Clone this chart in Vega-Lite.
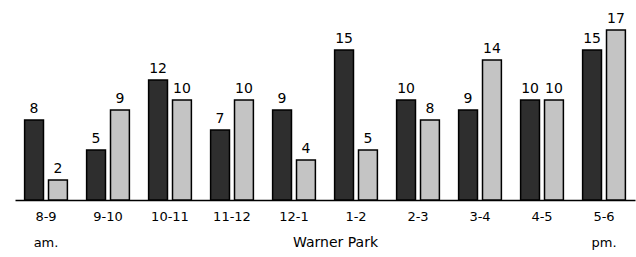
{
  "$schema": "https://vega.github.io/schema/vega-lite/v6.json",
  "width": 620,
  "height": 200,
  "autosize": {"type": "none"},
  "padding": {"left": 15, "top": 0, "right": 1, "bottom": 57},
  "background": "white",
  "config": {"view": {"stroke": null}, "font": "DejaVu Sans"},
  "data": {"values": [
    {"time": "8-9", "series": "A", "value": 8},
    {"time": "8-9", "series": "B", "value": 2},
    {"time": "9-10", "series": "A", "value": 5},
    {"time": "9-10", "series": "B", "value": 9},
    {"time": "10-11", "series": "A", "value": 12},
    {"time": "10-11", "series": "B", "value": 10},
    {"time": "11-12", "series": "A", "value": 7},
    {"time": "11-12", "series": "B", "value": 10},
    {"time": "12-1", "series": "A", "value": 9},
    {"time": "12-1", "series": "B", "value": 4},
    {"time": "1-2", "series": "A", "value": 15},
    {"time": "1-2", "series": "B", "value": 5},
    {"time": "2-3", "series": "A", "value": 10},
    {"time": "2-3", "series": "B", "value": 8},
    {"time": "3-4", "series": "A", "value": 9},
    {"time": "3-4", "series": "B", "value": 14},
    {"time": "4-5", "series": "A", "value": 10},
    {"time": "4-5", "series": "B", "value": 10},
    {"time": "5-6", "series": "A", "value": 15},
    {"time": "5-6", "series": "B", "value": 17}
  ]},
  "encoding": {
    "x": {
      "field": "time", "type": "nominal", "sort": null,
      "scale": {"paddingInner": 0.31, "paddingOuter": 0.155},
      "axis": {
        "title": "Warner Park", "titleFontSize": 14, "titleFontWeight": "normal",
        "titleColor": "black", "titleX": 320, "titleY": 35, "titleBaseline": "top",
        "labelAngle": 0, "labelFontSize": 13, "labelColor": "black",
        "labelPadding": 10, "labelLineHeight": 26,
        "labelExpr": "datum.label == '8-9' ? ['8-9', 'am.'] : datum.label == '5-6' ? ['5-6', 'pm.'] : datum.label",
        "ticks": false, "domainColor": "black", "domainWidth": 1.5
      }
    },
    "xOffset": {"field": "series", "type": "nominal", "scale": {"paddingInner": 0.21}},
    "y": {
      "field": "value", "type": "quantitative",
      "scale": {"domain": [0, 20]},
      "axis": null
    }
  },
  "layer": [
    {
      "mark": {"type": "bar", "stroke": "black", "strokeWidth": 1.5},
      "encoding": {
        "fill": {
          "field": "series", "type": "nominal",
          "scale": {"domain": ["A", "B"], "range": ["#2e2e2e", "#c4c4c4"]},
          "legend": null
        }
      }
    },
    {
      "mark": {"type": "text", "baseline": "bottom", "dy": -4, "fontSize": 14, "color": "black"},
      "encoding": {"text": {"field": "value", "type": "quantitative"}}
    }
  ]
}
